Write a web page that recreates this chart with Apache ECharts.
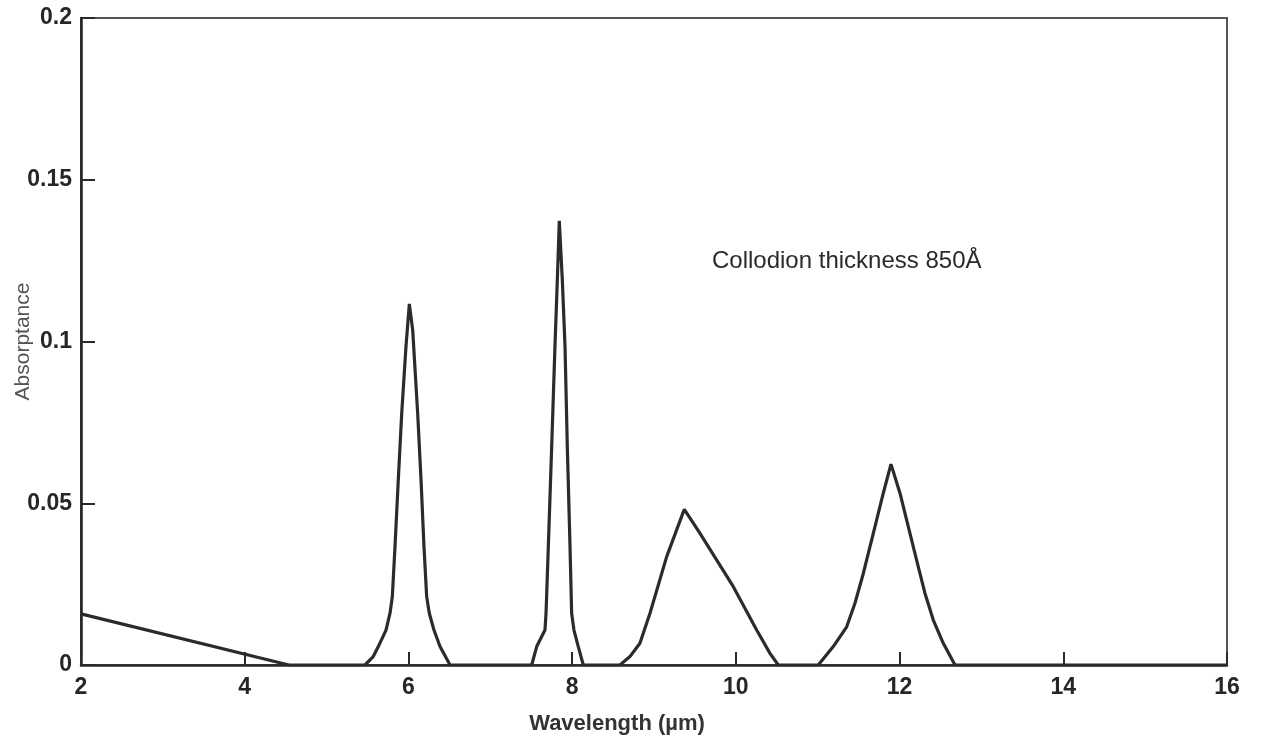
<!DOCTYPE html>
<html>
<head>
<meta charset="utf-8">
<title>Absorptance of collodion film</title>
<script src="https://cdn.jsdelivr.net/npm/echarts@6/dist/echarts.min.js"></script>
<style>
  html, body { margin: 0; padding: 0; background: #ffffff; }
  #chart { width: 1267px; height: 743px; }
</style>
</head>
<body>
<div id="chart"></div>
<script>
// Absorptance spectrum of an 850 Å collodion film (wavelength in µm)
const wavelength = [
  2.0, 4.54,
  5.469, 5.567, 5.632, 5.726, 5.775, 5.803, 5.836, 5.876, 5.918, 5.970, 6.011,
  6.052, 6.113, 6.154, 6.190, 6.223, 6.255, 6.312, 6.386, 6.508,
  7.506, 7.567, 7.668, 7.681, 7.709, 7.750, 7.790, 7.819, 7.843,
  7.880, 7.913, 7.941, 7.974, 7.994, 8.022, 8.075, 8.136,
  8.584, 8.706, 8.828, 8.951, 9.155, 9.370,
  9.562, 9.969, 10.254, 10.417, 10.518,
  11.007, 11.190, 11.354, 11.455, 11.557, 11.679, 11.801, 11.895,
  12.005, 12.127, 12.228, 12.310, 12.412, 12.534, 12.677,
  16.0
];
const absorptance = [
  0.0158, 0.0,
  0.0, 0.0025, 0.0057, 0.0108, 0.0160, 0.0211, 0.0366, 0.0572, 0.0778, 0.0984, 0.1116,
  0.1036, 0.0778, 0.0572, 0.0366, 0.0211, 0.0160, 0.0108, 0.0057, 0.0,
  0.0, 0.0057, 0.0108, 0.0160, 0.0366, 0.0675, 0.0984, 0.1190, 0.1373,
  0.1190, 0.0984, 0.0675, 0.0366, 0.0160, 0.0108, 0.0057, 0.0,
  0.0, 0.0026, 0.0067, 0.0160, 0.0335, 0.0481,
  0.0407, 0.0242, 0.0108, 0.0036, 0.0,
  0.0, 0.0057, 0.0118, 0.0191, 0.0283, 0.0407, 0.0531, 0.0621,
  0.0531, 0.0407, 0.0304, 0.0222, 0.0139, 0.0067, 0.0,
  0.0
];

// Tick values on both axes
const xTicks = [2, 4, 6, 8, 10, 12, 14, 16];
const yTicks = [0, 0.05, 0.1, 0.15, 0.2];

const annotation = 'Collodion thickness 850Å';
const xTitle = 'Wavelength (µm)';
const yTitle = 'Absorptance';

const points = wavelength.map((w, i) => [w, absorptance[i]]);

const chart = echarts.init(document.getElementById('chart'), null, { renderer: 'canvas' });

const labelFont = {
  color: '#262626',
  fontFamily: 'Liberation Sans, Arial, sans-serif',
  fontWeight: 'bold',
  fontSize: 23
};

chart.setOption({
  backgroundColor: '#ffffff',
  animation: false,
  grid: {
    left: 81, right: 40, top: 18, bottom: 78,
    outerBoundsMode: 'none',
    containLabel: false,
    show: true,
    borderColor: '#555555',
    borderWidth: 2,
    backgroundColor: 'transparent'
  },
  xAxis: {
    type: 'value',
    min: xTicks[0],
    max: xTicks[xTicks.length - 1],
    interval: xTicks[1] - xTicks[0],
    name: xTitle,
    nameLocation: 'middle',
    nameGap: 48,
    nameMoveOverlap: false,
    nameTextStyle: {
      color: '#333333',
      fontFamily: 'Liberation Sans, Arial, sans-serif',
      fontWeight: 'bold',
      fontSize: 22,
      padding: [0, 74, 0, 0]
    },
    axisLine: { show: true, onZero: false, lineStyle: { color: '#2a2a2a', width: 2.5 } },
    axisTick: { show: true, inside: true, length: 13, lineStyle: { color: '#2a2a2a', width: 2 } },
    axisLabel: Object.assign({ margin: 11 }, labelFont),
    splitLine: { show: false }
  },
  yAxis: {
    type: 'value',
    min: yTicks[0],
    max: yTicks[yTicks.length - 1],
    interval: yTicks[1] - yTicks[0],
    name: yTitle,
    nameLocation: 'middle',
    nameGap: 47,
    nameMoveOverlap: false,
    nameTextStyle: {
      color: '#555555',
      fontFamily: 'Liberation Sans, Arial, sans-serif',
      fontSize: 21
    },
    axisLine: { show: true, onZero: false, lineStyle: { color: '#222222', width: 2.5 } },
    axisTick: { show: true, inside: true, length: 14, lineStyle: { color: '#2a2a2a', width: 2 } },
    axisLabel: Object.assign({ margin: 9, formatter: v => String(+v.toFixed(2)) }, labelFont),
    splitLine: { show: false }
  },
  graphic: [{
    type: 'text',
    left: 712,
    top: 249,
    style: {
      text: annotation,
      fill: '#2a2a2a',
      font: '24px "Liberation Sans", Arial, sans-serif'
    }
  }],
  series: [{
    type: 'line',
    data: points,
    showSymbol: false,
    smooth: false,
    lineStyle: { color: '#2b2b2b', width: 3.2 },
    z: 3
  }]
});
</script>
</body>
</html>
